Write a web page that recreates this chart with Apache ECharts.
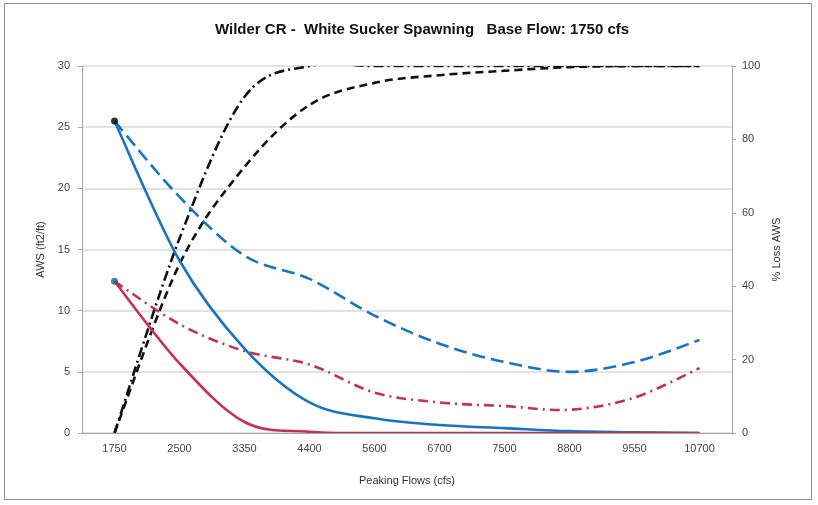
<!DOCTYPE html>
<html>
<head>
<meta charset="utf-8">
<script src="https://cdn.jsdelivr.net/npm/echarts@6/dist/echarts.min.js"></script>
<style>
html,body{margin:0;padding:0;background:#fff;}
#c{width:818px;height:505px;}
</style>
</head>
<body>
<div id="c"></div>
<script>
var categories = ['1750','2500','3350','4400','5600','6700','7500','8800','9550','10700'];
var blueSolid  = [25.5, 14.1, 6.9, 2.5, 1.2, 0.65, 0.4, 0.15, 0.05, 0];
var blueDashed = [25.5, 19.3, 14.5, 12.6, 9.6, 7.3, 5.8, 5.0, 5.8, 7.6];
var redSolid   = [12.4, 5.7, 0.9, 0.1, 0, 0, 0, 0, 0, 0];
var redDashDot = [12.4, 8.9, 6.7, 5.6, 3.3, 2.5, 2.2, 1.9, 2.9, 5.3];
var lossDashed  = [0, 46, 72.5, 89.4, 95.4, 97.5, 98.7, 99.7, 100, 100];
var lossDashDot = [0, 53, 91.6, 100, 100, 100, 100, 100, 100, 100];
var leftTicks = [0, 30, 5];
var rightTicks = [0, 100, 20];

var FONT = 'Liberation Sans, Arial, sans-serif';
var chart = echarts.init(document.getElementById('c'), null, {renderer:'canvas'});

// Smooth (Catmull-Rom style, like Excel) line drawn through the axes' own scales
function curve(name, data, color, dash, yIdx, z){
  return {name:name, type:'custom', yAxisIndex:yIdx, z:z, clip:true, data:[[0, data[0]]],
    renderItem:function(params, api){
      var p = data.map(function(v, i){ return api.coord([i, v]); });
      var n = p.length, t = 1/6;
      var d = 'M' + p[0][0] + ',' + p[0][1];
      for (var i = 0; i < n - 1; i++){
        var p0 = p[i > 0 ? i - 1 : i], p1 = p[i], p2 = p[i + 1], p3 = p[i + 2 < n ? i + 2 : i + 1];
        var c1x = p1[0] + (p2[0] - p0[0]) * t, c1y = p1[1] + (p2[1] - p0[1]) * t;
        var c2x = p2[0] - (p3[0] - p1[0]) * t, c2y = p2[1] - (p3[1] - p1[1]) * t;
        d += ' C' + c1x + ',' + c1y + ' ' + c2x + ',' + c2y + ' ' + p2[0] + ',' + p2[1];
      }
      return {type:'path', shape:{pathData:d},
        style:{fill:'none', stroke:color, lineWidth:2.6, lineDash:dash, lineCap:'butt'}};
    }};
}

chart.setOption({
  animation:false,
  backgroundColor:'#fff',
  title:{text:'Wilder CR -  White Sucker Spawning   Base Flow: 1750 cfs', left:210, top:17,
    textStyle:{fontFamily:FONT, fontSize:15, fontWeight:'bold', color:'#111'}},
  graphic:[{type:'rect', shape:{x:4.5,y:3.5,width:807,height:496}, style:{fill:'none', stroke:'#8c8c8c', lineWidth:1}, silent:true}],
  grid:{left:82, right:86, top:66, bottom:72},
  xAxis:{type:'category', data:categories, boundaryGap:true,
    name:'Peaking Flows (cfs)', nameLocation:'middle', nameGap:42,
    nameTextStyle:{fontFamily:FONT, fontSize:11, color:'#333'},
    axisLine:{lineStyle:{color:'#a6a6a6'}}, axisTick:{show:false},
    axisLabel:{fontFamily:FONT, fontSize:11, color:'#444', margin:10}},
  yAxis:[
    {type:'value', min:leftTicks[0], max:leftTicks[1], interval:leftTicks[2],
      name:'AWS (ft2/ft)', nameLocation:'middle', nameGap:28, nameRotate:90,
      nameTextStyle:{fontFamily:FONT, fontSize:11, color:'#333'},
      axisLine:{show:true, lineStyle:{color:'#a6a6a6'}},
      axisTick:{show:true, length:4, lineStyle:{color:'#a6a6a6'}},
      axisLabel:{fontFamily:FONT, fontSize:11, color:'#444', margin:12},
      splitLine:{show:true, lineStyle:{color:'#d9d9d9', width:1.5}}},
    {type:'value', min:rightTicks[0], max:rightTicks[1], interval:rightTicks[2], position:'right',
      name:'% Loss AWS', nameLocation:'middle', nameGap:35, nameRotate:90,
      nameTextStyle:{fontFamily:FONT, fontSize:11, color:'#333'},
      axisLine:{show:true, lineStyle:{color:'#a6a6a6'}},
      axisTick:{show:true, length:4, lineStyle:{color:'#a6a6a6'}},
      axisLabel:{fontFamily:FONT, fontSize:11, color:'#444', margin:10},
      splitLine:{show:false}}
  ],
  series:[
    curve('Loss dash-dot', lossDashDot, '#111', [10,4,2,4], 1, 3),
    curve('Loss dashed', lossDashed, '#111', [8,5], 1, 3),
    curve('Blue dashed', blueDashed, '#1874c4', [13,6], 0, 4),
    curve('Red dash-dot', redDashDot, '#c8304f', [10,5,2,5], 0, 4),
    curve('Blue solid', blueSolid, '#1874c4', null, 0, 5),
    curve('Red solid', redSolid, '#c8304f', null, 0, 5),
    {type:'scatter', yAxisIndex:0, z:6, symbolSize:7, itemStyle:{color:'#000'},
      data:[[categories[0], blueSolid[0]]]},
    {type:'scatter', yAxisIndex:0, z:6, symbolSize:7, itemStyle:{color:'#1f5f8f'},
      data:[[categories[0], redSolid[0]]]}
  ]
});
</script>
</body>
</html>
